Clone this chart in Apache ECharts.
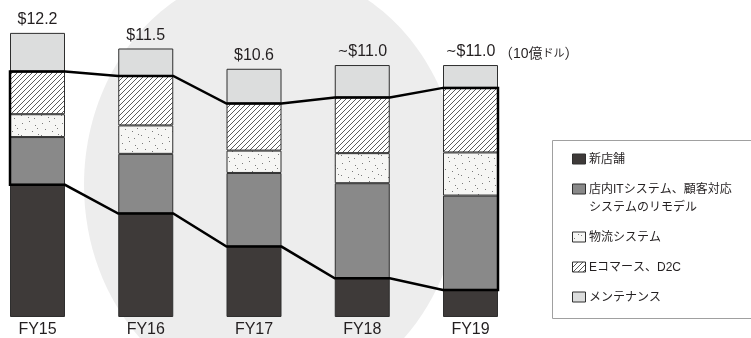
<!DOCTYPE html>
<html>
<head>
<meta charset="utf-8">
<script src="https://cdn.jsdelivr.net/npm/echarts@6/dist/echarts.min.js"></script>
<style>html,body{margin:0;padding:0;background:#fff}#c{width:751px;height:338px}</style>
</head>
<body>
<div id="c"></div>
<script>
// ---- data ----
const categories = ['FY15', 'FY16', 'FY17', 'FY18', 'FY19'];
const newStores   = [5.67, 4.44, 3.02, 1.66, 1.16];
const inStoreIT   = [2.05, 2.56, 3.16, 4.08, 4.05];
const logistics   = [0.98, 1.22, 0.96, 1.29, 1.85];
const ecommerce   = [1.83, 2.12, 2.02, 2.39, 2.77];
const maintenance = [1.66, 1.18, 1.49, 1.39, 0.98];
const totalLabels = ['$12.2', '$11.5', '$10.6', '~$11.0', '~$11.0'];
const seriesNames = ['新店舗', '店内ITシステム、顧客対応システムのリモデル', '物流システム', 'Eコマース、D2C', 'メンテナンス'];
const legendLabels = ['新店舗', '店内ITシステム、顧客対応\nシステムのリモデル', '物流システム', 'Eコマース、D2C', 'メンテナンス'];
const unitParts = ['（10億', 'ドル', '）'];

// ---- styles ----
const FONT = "'Liberation Sans','Noto Sans CJK JP',sans-serif";
const BAR_W = 55;

function hatchPattern() {
  const s = 5, c = document.createElement('canvas');
  c.width = s; c.height = s;
  const g = c.getContext('2d');
  g.fillStyle = '#ffffff'; g.fillRect(0, 0, s, s);
  g.strokeStyle = '#4a4a4a'; g.lineWidth = 0.9;
  [-s, 0, s].forEach(x0 => { g.beginPath(); g.moveTo(x0, s); g.lineTo(x0 + s, 0); g.stroke(); });
  return c;
}
function dotPattern() {
  const s = 20, c = document.createElement('canvas');
  c.width = s; c.height = s;
  const g = c.getContext('2d');
  g.fillStyle = '#f6f6f4'; g.fillRect(0, 0, s, s);
  g.fillStyle = '#7a7a7a';
  [[2,3],[9,1],[15,5],[5,9],[12,11],[18,14],[1,15],[8,17],[14,18],[17,8]].forEach(p => g.fillRect(p[0], p[1], 1, 1));
  return c;
}
const colors = [
  '#3e3a39',
  '#898989',
  { image: dotPattern(), repeat: 'repeat' },
  { image: hatchPattern(), repeat: 'repeat' },
  '#dcdddd'
];
const values = [newStores, inStoreIT, logistics, ecommerce, maintenance];

// boundaries for the outline band
const lowerLine = newStores.slice();
const upperLine = categories.map((c, i) => newStores[i] + inStoreIT[i] + logistics[i] + ecommerce[i]);

const chart = echarts.init(document.getElementById('c'), null, { renderer: 'canvas' });

const txt = { fontSize: 16, fontFamily: FONT, color: '#231f20' };
const barSeries = values.map((arr, k) => ({
  name: seriesNames[k],
  type: 'bar',
  stack: 'total',
  barWidth: BAR_W,
  data: arr,
  silent: true,
  itemStyle: { color: colors[k], borderColor: '#2e2e2e', borderWidth: 1 },
  label: k === values.length - 1 ? {
    show: true, position: 'top', distance: 5,
    formatter: p => {
      const s = totalLabels[p.dataIndex];
      return s.charAt(0) === '~' ? '{t|∼}{n|' + s.slice(1) + '}' : '{n|' + s + '}';
    },
    rich: {
      n: txt,
      t: { fontSize: 13, fontFamily: "'DejaVu Sans',sans-serif", color: '#231f20' }
    }
  } : { show: false }
}));

const bandSeries = {
  type: 'custom',
  z: 10,
  silent: true,
  data: categories.map((c, i) => [i, upperLine[i], lowerLine[i]]),
  renderItem: function (params, api) {
    if (params.dataIndex !== 0) return null;
    const hw = BAR_W / 2;
    const pts = [];
    for (let i = 0; i < categories.length; i++) {
      const p = api.coord([i, upperLine[i]]);
      pts.push([p[0] - hw, p[1]], [p[0] + hw, p[1]]);
    }
    for (let i = categories.length - 1; i >= 0; i--) {
      const p = api.coord([i, lowerLine[i]]);
      pts.push([p[0] + hw, p[1]], [p[0] - hw, p[1]]);
    }
    return {
      type: 'polygon',
      shape: { points: pts },
      style: { fill: 'none', stroke: '#000', lineWidth: 2.5, lineJoin: 'miter' }
    };
  }
};

// legend drawn as graphic (box + swatches + labels)
const legendEls = [{
  type: 'rect', z: 1,
  shape: { x: 552.5, y: 140.5, width: 220, height: 178 },
  style: { fill: '#ffffff', stroke: '#a0a0a0', lineWidth: 1 }
}];
let extra = 0;
legendLabels.forEach((lab, i) => {
  const base = 159.5 + 30 * i + extra;
  const lines = lab.split('\n').length;
  legendEls.push({
    type: 'rect', z: 2,
    shape: { x: 572.5, y: base - 5.5, width: 13, height: 10 },
    style: { fill: colors[i], stroke: '#2e2e2e', lineWidth: 1 }
  });
  legendEls.push({
    type: 'text', z: 2, x: 589, y: base - 9,
    style: { text: lab, fill: '#231f20', font: '12px ' + FONT, lineHeight: 18, verticalAlign: 'top', align: 'left' }
  });
  extra += (lines - 1) * 18;
});

const option = {
  animation: false,
  grid: { left: 37.5, width: 433, top: 14, bottom: 19, containLabel: false },
  xAxis: {
    type: 'category', data: categories, boundaryGap: false,
    axisLine: { show: false }, axisTick: { show: false },
    axisLabel: { fontSize: 16, color: '#231f20', fontFamily: FONT, margin: 5 }
  },
  yAxis: { type: 'value', min: 0, max: 13, show: false, splitLine: { show: false } },
  legend: { show: false },
  series: barSeries.concat([bandSeries]),
  graphic: [
    { type: 'ellipse', z: -10, shape: { cx: 272, cy: 185, rx: 188, ry: 215 }, style: { fill: '#ededed' } },
    {
      type: 'text', z: 2, x: 499, y: 54,
      style: {
        text: '{a|' + unitParts[0] + '}{b|' + unitParts[1] + '}{a|' + unitParts[2] + '}',
        verticalAlign: 'middle', align: 'left',
        rich: {
          a: { fontSize: 14, fontFamily: FONT, fill: '#231f20', color: '#231f20' },
          b: { fontSize: 11, fontFamily: FONT, fill: '#231f20', color: '#231f20' }
        }
      }
    }
  ].concat(legendEls)
};
chart.setOption(option);
</script>
</body>
</html>
